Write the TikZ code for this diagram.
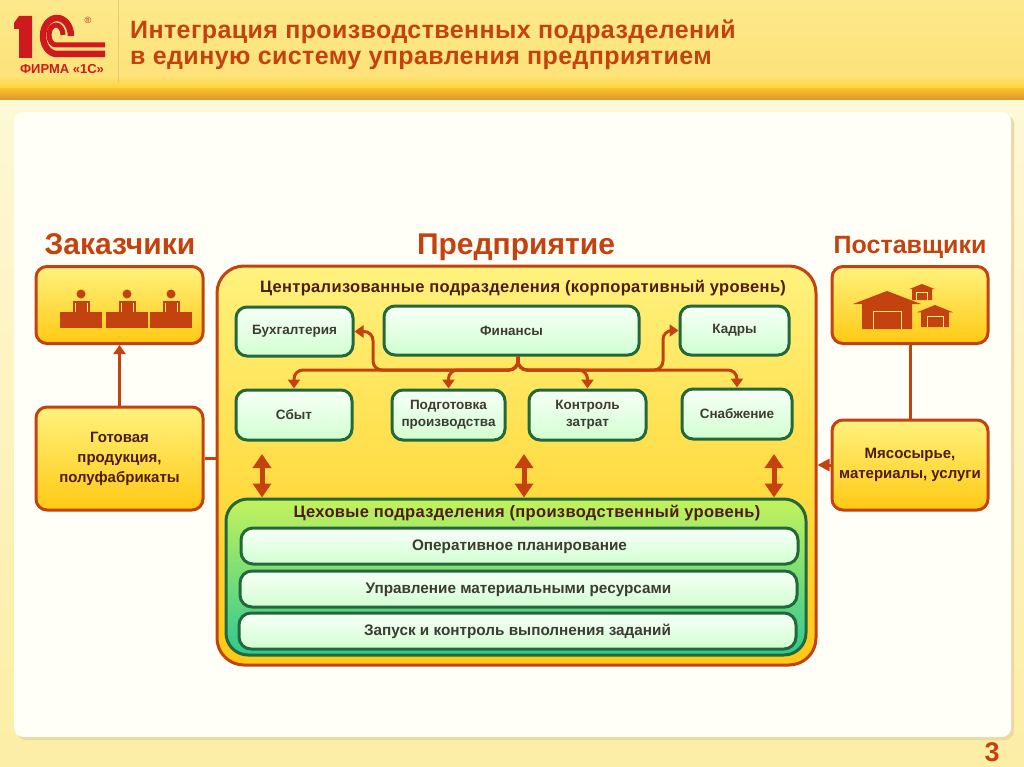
\documentclass[tikz,border=0pt]{standalone}
\usepackage{fontspec}
\setmainfont{Liberation Sans}
\newfontfamily\spacedfont[LetterSpace=1.6]{Liberation Sans}
\newfontfamily\levelfont[LetterSpace=2]{Liberation Sans}
\usetikzlibrary{arrows.meta}

\definecolor{rust}{HTML}{C4420F}
\definecolor{deepgreen}{HTML}{23683A}
\definecolor{logored}{HTML}{CE1A1E}
\definecolor{boxtop}{HTML}{FFF27E}
\definecolor{boxbottom}{HTML}{FFC913}
\definecolor{darkbrown}{HTML}{4E1C0A}
\definecolor{darkgray}{HTML}{3C3C32}

\tikzset{
    yellowbox/.style={draw=rust, line width=3pt, rounded corners=11pt, top color=boxtop, bottom color=boxbottom,
        inner sep=0pt, align=center, font=\fontsize{15}{20}\selectfont\bfseries, text=darkbrown},
    deptbox/.style={draw=deepgreen, line width=3pt, rounded corners=11pt, top color=green!3!white, bottom color=green!18!white,
        inner sep=0pt, align=center, font=\fontsize{13.5}{17}\selectfont\bfseries, text=darkgray},
    rowbox/.style={deptbox, rounded corners=12pt, minimum height=36pt, text height=11pt, text depth=3pt, font=\fontsize{15.3}{18}\selectfont\bfseries},
    heading/.style={anchor=base, text=rust, font=\fontsize{30}{34}\selectfont\bfseries},
    titleline/.style={anchor=base west, inner sep=0pt, text=rust, font=\fontsize{25}{28}\selectfont\spacedfont\bfseries},
    leveltitle/.style={text=darkbrown, font=\fontsize{16.5}{20}\selectfont\levelfont\bfseries},
    flow/.style={draw=rust, line width=3pt, rounded corners=9pt, -{Triangle[width=12pt,length=9pt]}},
    bothway/.style={draw=rust, line width=5pt, {Triangle[width=18pt,length=14pt]}-{Triangle[width=18pt,length=14pt]}}
}

\begin{document}
\begin{tikzpicture}[x=1pt, y=-1pt]
    \useasboundingbox (0,0) rectangle (1024,767);

    % --- Background and header ---
    \shade[top color={rgb,255:red,253;green,248;blue,214}, bottom color={rgb,255:red,252;green,238;blue,165}] (0,100) rectangle (1024,767);
    \shade[top color={rgb,255:red,253;green,233;blue,140}, bottom color={rgb,255:red,253;green,226;blue,120}] (0,0) rectangle (1024,76);
    \shade[top color={rgb,255:red,253;green,226;blue,120}, bottom color={rgb,255:red,255;green,212;blue,50}] (0,76) rectangle (1024,89);
    \shade[top color={rgb,255:red,250;green,190;blue,40}, bottom color={rgb,255:red,218;green,150;blue,50}] (0,89) rectangle (1024,100);
    \fill[yellow!30!brown!45!white, rounded corners=9pt] (17,115) rectangle (1014,740);
    \fill[yellow!3!white, rounded corners=9pt] (14,112) rectangle (1011,737);
    \draw[yellow!40!brown!70!white, line width=1pt] (118,0) -- (118,83);

    % Logo
    \fill[logored] (14,23) -- (19,16) -- (32,16) -- (32,58) -- (19,58) -- (19,29) -- (14,29) -- cycle;
    \draw[logored, line width=6.5pt] (71,36) arc[start angle=0, end angle=-270, x radius=14, y radius=18] -- (105,54);
    \draw[logored, line width=5pt] (63,35) arc[start angle=0, end angle=-270, x radius=7, y radius=10] -- (105,45);
    \node (logotext) [text=logored, font=\fontsize{13}{15}\selectfont\bfseries] at (62,69) {ФИРМА «1С»};
    \node (logomark) [text=logored, font=\fontsize{9}{10}\selectfont] at (88,20) {®};

    % Title
    \node (title1) [titleline] at (130,39) {Интеграция производственных подразделений};
    \node (title2) [titleline] at (130,65) {в единую систему управления предприятием};

    % --- Headings ---
    \node (hcust) [heading] at (120,254) {Заказчики};
    \node (hent) [heading] at (516,254) {Предприятие};
    \node (hsupp) [heading, font=\fontsize{25}{28}\selectfont\bfseries] at (910,253) {Поставщики};

    % --- Customers and suppliers ---
    \node (custicon) [yellowbox, minimum width=167pt, minimum height=77pt] at (119.5,305) {};
    \node (goods) [yellowbox, minimum width=167pt, minimum height=103pt] at (119.5,458.5) {Готовая\\продукция,\\полуфабрикаты};
    \node (suppicon) [yellowbox, minimum width=156pt, minimum height=77pt] at (910,305) {};
    \node (inputs) [yellowbox, minimum width=156pt, minimum height=90pt] at (910,465) {Мясосырье,\\материалы, услуги};

    % People at desks
    \foreach \x in {81,127,171} {
        \fill[rust] (\x,294) circle (4.5pt);
        \fill[rust] (\x-8.5,301) rectangle (\x+8.5,312);
        \draw[boxtop, line width=0.8pt] (\x-6,303) -- (\x-6,312) (\x+6,303) -- (\x+6,312);
        \fill[rust] (\x-21,312) rectangle (\x+21,328);
    }

    % Warehouses
    \foreach \cx/\top/\base/\wd/\rf/\dw in {887/291/329/25/34/14, 922/284/300/10/13/5.5, 935/305/327/14/18/8} {
        \fill[rust] (\cx-\rf,\top+13*\wd/25) -- (\cx,\top) -- (\cx+\rf,\top+13*\wd/25) -- (\cx+\wd,\top+13*\wd/25) -- (\cx+\wd,\base) -- (\cx-\wd,\base) -- (\cx-\wd,\top+13*\wd/25) -- cycle;
        \draw[boxtop, line width=1pt] (\cx-\dw,\base) -- (\cx-\dw,\top+20*\wd/25) -- (\cx+\dw,\top+20*\wd/25) -- (\cx+\dw,\base);
    }

    % --- Enterprise ---
    \node (main) [yellowbox, rounded corners=27pt, minimum width=599pt, minimum height=399pt] at (516.5,465.5) {};
    \node (centr) [leveltitle] at (523,288) {Централизованные подразделения (корпоративный уровень)};

    \node (buh) [deptbox, minimum width=117pt, minimum height=49pt] at (294.5,331.5) {Бухгалтерия};
    \node (fin) [deptbox, minimum width=255pt, minimum height=49pt] at (511.5,330.5) {Финансы};
    \node (kadry) [deptbox, minimum width=109pt, minimum height=49pt] at (734.5,330.5) {Кадры};
    \node (sbyt) [deptbox, minimum width=116pt, minimum height=50pt] at (294,415) {Сбыт};
    \node (podg) [deptbox, minimum width=113pt, minimum height=50pt] at (448.5,415) {Подготовка\\производства};
    \node (kontrol) [deptbox, minimum width=117pt, minimum height=50pt] at (587.5,415) {Контроль\\затрат};
    \node (snab) [deptbox, minimum width=110pt, minimum height=50pt] at (737,414) {Снабжение};

    \node (shop) [draw=deepgreen, line width=3pt, rounded corners=22pt, top color={rgb,255:red,196;green,242;blue,92}, bottom color={rgb,255:red,46;green,200;blue,146},
        minimum width=580pt, minimum height=156pt] at (516,577) {};
    \node (shoptitle) [leveltitle] at (527,513) {Цеховые подразделения (производственный уровень)};
    \node (row1) [rowbox, minimum width=557pt] at (519.5,546) {Оперативное планирование};
    \node (row2) [rowbox, minimum width=557pt] at (518.5,589) {Управление материальными ресурсами};
    \node (row3) [rowbox, minimum width=557pt] at (517.5,631) {Запуск и контроль выполнения заданий};

    % --- Connectors ---
    \draw[draw=rust, line width=3pt, -{Triangle[width=12pt,length=9pt]}] (goods.north) -- (custicon.south);
    \draw[draw=rust, line width=3pt] (suppicon.south) -- (inputs.north);
    \draw[draw=rust, line width=3pt] (goods.east) -- (goods.east -| main.west);
    \draw[draw=rust, line width=3pt, -{Triangle[width=12pt,length=12pt]}] (inputs.west) -- (inputs.west -| main.east);

    % Finance bus
    \coordinate (bus) at (518,370);
    \foreach \n in {sbyt,podg,kontrol,snab} {
        \draw[flow] (bus |- fin.south) -- (bus) -| (\n.north);
    }
    \draw[flow] (bus |- fin.south) -- (bus) -- (373,370) |- (buh.east);
    \draw[flow] (bus |- fin.south) -- (bus) -- (663,370) |- (kadry.west);

    % Between levels
    \foreach \x in {262,524,774} {
        \draw[bothway] (\x,454) -- (\x,0 |- shop.north);
    }

    % Page number
    \node (pagenum) [text=rust, font=\fontsize{27}{30}\selectfont\bfseries] at (992,752) {3};
\end{tikzpicture}
\end{document}
